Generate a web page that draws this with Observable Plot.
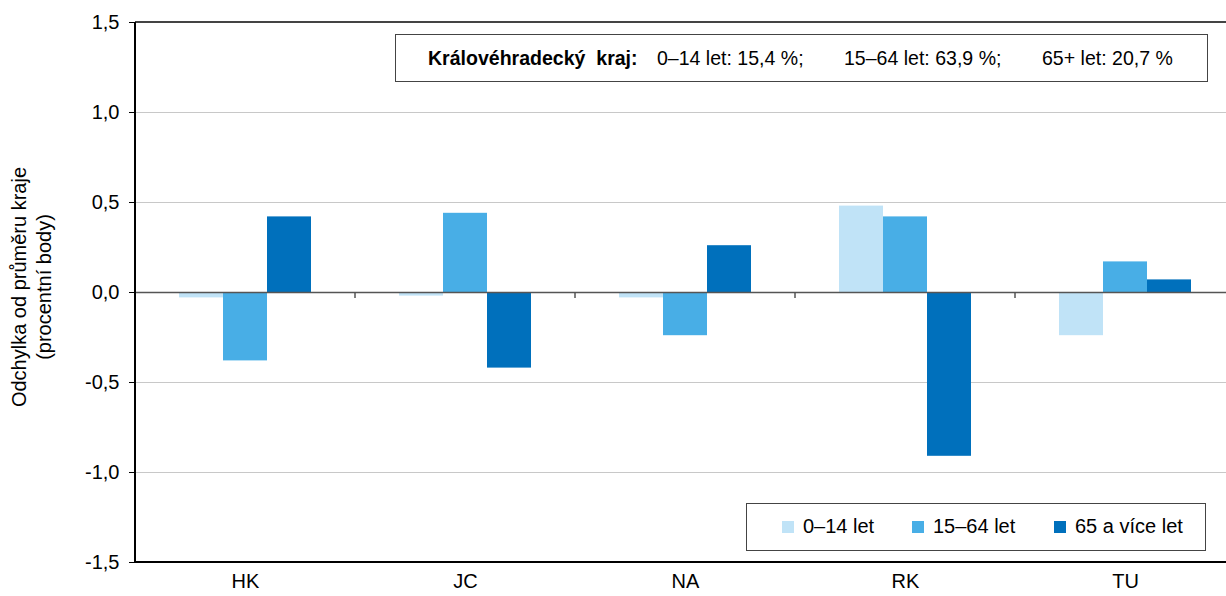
<!DOCTYPE html>
<html>
<head>
<meta charset="utf-8">
<script src="https://cdn.jsdelivr.net/npm/d3@7"></script>
<script src="https://cdn.jsdelivr.net/npm/@observablehq/plot@0.6"></script>
<style>
  html, body { margin: 0; padding: 0; background: #fff; }
  #wrap { position: relative; width: 1226px; height: 596px; overflow: hidden; font-family: "Liberation Sans", Arial, sans-serif; color: #000; }
  #wrap svg { position: absolute; left: 0; top: 0; max-width: none !important; }
  .ytitle { position: absolute; left: 32px; top: 287px; transform: translate(-50%, -50%) rotate(-90deg); font-size: 20px; line-height: 25px; text-align: center; white-space: nowrap; }
  .note { position: absolute; left: 395px; top: 34px; width: 811px; height: 46px; border: 1.5px solid #444; background: #fff; font-size: 21px; }
  .note span { position: absolute; top: 11px; white-space: pre; transform: scaleX(0.93); transform-origin: left center; }
  .legend { position: absolute; left: 746px; top: 503px; width: 458px; height: 46px; border: 1.5px solid #444; background: #fff; font-size: 20px; }
  .legend .item { position: absolute; top: 11px; white-space: nowrap; display: flex; align-items: center; }
  .legend .sw { width: 12px; height: 12px; margin-right: 9px; display: inline-block; }
</style>
</head>
<body>
<div id="wrap"></div>
<script>
const regions = ["HK", "JC", "NA", "RK", "TU"];
const series = ["0–14 let", "15–64 let", "65 a více let"];
const colors = ["#C0E3F7", "#48AEE6", "#0070BC"];
const v0_14 = [-0.03, -0.02, -0.03, 0.48, -0.24];
const v15_64 = [-0.38, 0.44, -0.24, 0.42, 0.17];
const v65 = [0.42, -0.42, 0.26, -0.91, 0.07];
const yTicks = [-1.5, -1.0, -0.5, 0.0, 0.5, 1.0, 1.5];
const gridVals = [-1.0, -0.5, 0.5, 1.0];
const noteTitle = "Královéhradecký  kraj:";
const noteParts = ["0–14 let: 15,4 %;", "15–64 let: 63,9 %;", "65+ let: 20,7 %"];
const yTitle = ["Odchylka od průměru kraje", "(procentní body)"];

const valuesBySeries = [v0_14, v15_64, v65];
const data = [];
regions.forEach((r, i) => {
  series.forEach((s, j) => data.push({region: r, series: s, value: valuesBySeries[j][i]}));
});

const fmt = v => v.toFixed(1).replace(".", ",");

const plot = Plot.plot({
  width: 1236,
  height: 596,
  marginLeft: 133,
  marginRight: 0,
  marginTop: 22,
  marginBottom: 34,
  style: {fontFamily: "'Liberation Sans', Arial, sans-serif", fontSize: "20px", color: "#000", background: "transparent"},
  fx: {domain: regions, padding: 0, label: null, tickSize: 0, tickPadding: 11},
  x: {domain: series, paddingInner: 0, paddingOuter: 1, axis: null},
  y: {domain: [-1.5, 1.5], ticks: yTicks, tickFormat: fmt, tickSize: 6, tickPadding: 10, label: null},
  color: {domain: series, range: colors},
  marks: [
    Plot.ruleY(gridVals, {stroke: "#c8c8c8", strokeWidth: 1.2}),
    Plot.barY(data, {fx: "region", x: "series", y: "value", fill: "series", inset: 0}),
    Plot.ruleY([0], {stroke: "#555", strokeWidth: 1.5})
  ]
});
plot.style.maxWidth = "none";

const wrap = document.getElementById("wrap");
wrap.appendChild(plot);

// frame lines and category boundary ticks using the plot's scales
const svg = d3.select(plot);
const fx = plot.scale("fx");
const y = plot.scale("y");
const left = fx.apply(regions[0]);
const right = fx.apply(regions[regions.length - 1]) + fx.bandwidth;
const y0 = y.apply(0), yTop = y.apply(1.5), yBot = y.apply(-1.5);
const g = svg.append("g");
g.append("line").attr("x1", left).attr("x2", right).attr("y1", yTop).attr("y2", yTop).attr("stroke", "#444").attr("stroke-width", 2);
g.append("line").attr("x1", left).attr("x2", right).attr("y1", yBot).attr("y2", yBot).attr("stroke", "#000").attr("stroke-width", 2);
g.append("line").attr("x1", left).attr("x2", left).attr("y1", yTop).attr("y2", yBot).attr("stroke", "#000").attr("stroke-width", 2);
regions.slice(1).forEach(r => {
  const xb = fx.apply(r);
  g.append("line").attr("x1", xb).attr("x2", xb).attr("y1", y0).attr("y2", y0 + 6).attr("stroke", "#555").attr("stroke-width", 1.5);
});

// y-axis title
const yt = document.createElement("div");
yt.className = "ytitle";
yt.innerHTML = yTitle.join("<br>");
wrap.appendChild(yt);

// note box
const note = document.createElement("div");
note.className = "note";
const noteLefts = [32, 261, 448, 646];
const tSpan = document.createElement("span");
tSpan.style.left = noteLefts[0] + "px";
tSpan.style.fontWeight = "bold";
tSpan.textContent = noteTitle;
note.appendChild(tSpan);
noteParts.forEach((p, i) => {
  const s = document.createElement("span");
  s.style.left = noteLefts[i + 1] + "px";
  s.textContent = p;
  note.appendChild(s);
});
wrap.appendChild(note);

// legend
const legend = document.createElement("div");
legend.className = "legend";
const legLefts = [35, 165, 307];
series.forEach((s, i) => {
  const it = document.createElement("div");
  it.className = "item";
  it.style.left = legLefts[i] + "px";
  const sw = document.createElement("span");
  sw.className = "sw";
  sw.style.background = colors[i];
  it.appendChild(sw);
  it.appendChild(document.createTextNode(s));
  legend.appendChild(it);
});
wrap.appendChild(legend);
</script>
</body>
</html>
